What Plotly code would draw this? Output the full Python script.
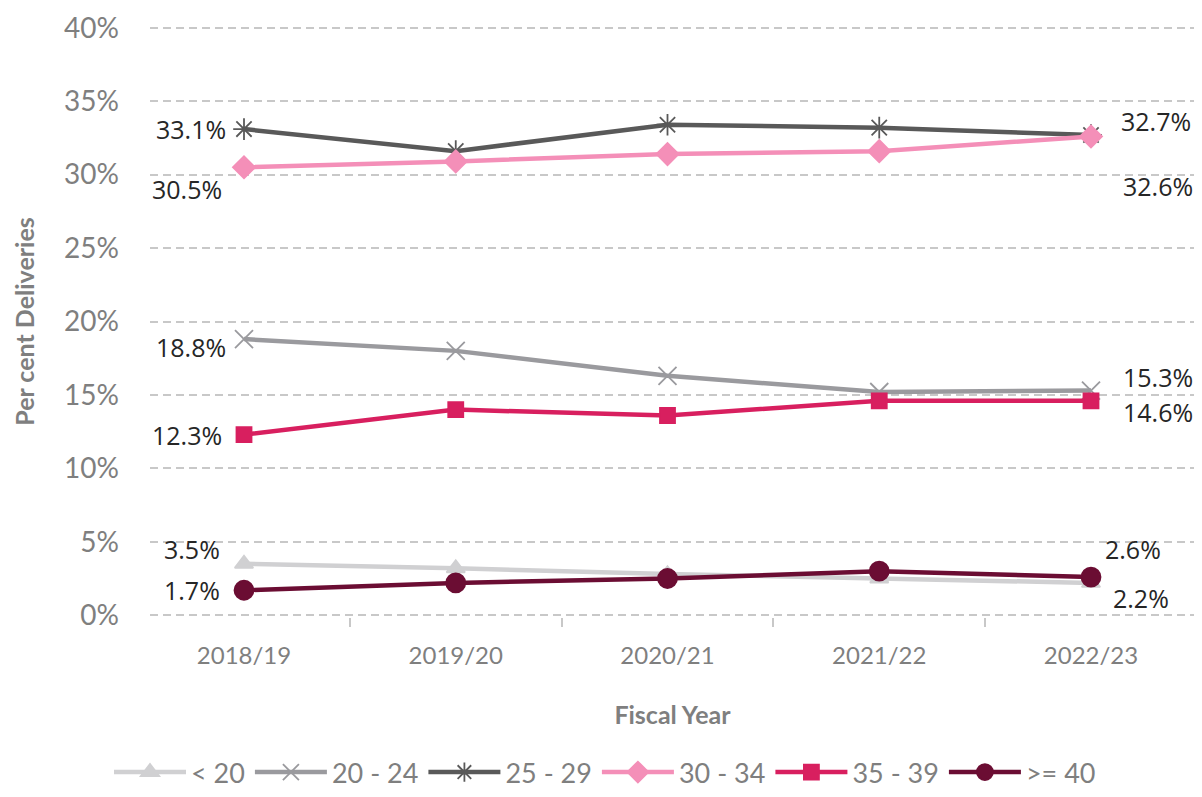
import plotly.graph_objects as go

years = ["2018/19", "2019/20", "2020/21", "2021/22", "2022/23"]
age_groups = ["< 20", "20 - 24", "25 - 29", "30 - 34", "35 - 39", ">= 40"]
y_ticks = [0, 5, 10, 15, 20, 25, 30, 35, 40]

under_20 = [3.5, 3.2, 2.8, 2.5, 2.2]
age_20_24 = [18.8, 18.0, 16.3, 15.2, 15.3]
age_25_29 = [33.1, 31.6, 33.4, 33.2, 32.7]
age_30_34 = [30.5, 30.9, 31.4, 31.6, 32.6]
age_35_39 = [12.3, 14.0, 13.6, 14.6, 14.6]
over_40 = [1.7, 2.2, 2.5, 3.0, 2.6]

series = [under_20, age_20_24, age_25_29, age_30_34, age_35_39, over_40]
colors = ["#D0D0D2", "#9A9A9E", "#595959", "#F48FB8", "#D81F5F", "#6B0D33"]
symbols = ["triangle-up", "x-thin-open", "asterisk-open", "diamond", "square", "circle"]
sizes = [16, 18, 18, 17, 15, 19]

# label offsets (xshift, yshift) for the first / last point of each series
first_pos = [(-22, 15), (-16, -8), (-16, 0), (-20, -22), (-20, 0), (-22, 0)]
last_pos = [(20, -15), (30, 14), (28, 14), (30, -50), (30, -11), (12, 28)]

font = "Lato, Open Sans, sans-serif"
label_font = "Open Sans, sans-serif"

fig = go.Figure()
for name, vals, c, s, sz in zip(age_groups, series, colors, symbols, sizes):
    fig.add_trace(go.Scatter(
        x=years, y=vals, name=name, mode="lines+markers",
        line=dict(color=c, width=4.5),
        marker=dict(symbol=s, size=sz, color=c, line=dict(color=c, width=1.8)),
    ))

for vals, fp, lp in zip(series, first_pos, last_pos):
    for i, pos, anchor in ((0, fp, "right"), (len(years) - 1, lp, "left")):
        fig.add_annotation(
            x=years[i], y=vals[i], text=f"{vals[i]:.1f}%", showarrow=False,
            xshift=pos[0], yshift=pos[1], xanchor=anchor,
            font=dict(family=label_font, size=25, color="#262626"),
        )

# the page body adds an 8px margin, so the figure is sized to fit inside it
fig.update_layout(
    width=1194, height=789,
    margin=dict(l=142, r=7, t=18, b=180),
    plot_bgcolor="white", paper_bgcolor="white",
    font=dict(family=font, size=22, color="#7F7F7F"),
    legend=dict(orientation="h", xref="container", yref="container",
                x=0.5, xanchor="center", y=-0.009, yanchor="bottom",
                font=dict(size=27, color="#7F7F7F"), itemwidth=72,
                tracegroupgap=0),
    xaxis=dict(
        title=dict(text="<b>Fiscal Year</b>", font=dict(size=25, color="#7F7F7F"), standoff=38),
        showgrid=False, showline=False, zeroline=False, automargin=False,
        ticks="outside", tickson="boundaries", ticklen=9, tickwidth=1.5, tickcolor="#C8C8C8",
        tickfont=dict(size=24, color="#7F7F7F"), ticklabelstandoff=22,
    ),
    yaxis=dict(
        title=dict(text="<b>Per cent Deliveries</b>", font=dict(size=25, color="#7F7F7F"), standoff=22),
        range=[-0.12, 40.12], tickmode="array", tickvals=y_ticks,
        ticktext=[f"{v}%" for v in y_ticks],
        showgrid=True, gridcolor="#C8C8C8", griddash="8px,5px", gridwidth=1.5,
        zeroline=False, showline=False, automargin=False,
        tickfont=dict(size=28, color="#7F7F7F"), ticklabelstandoff=30,
    ),
)

fig.write_html("out.html")
